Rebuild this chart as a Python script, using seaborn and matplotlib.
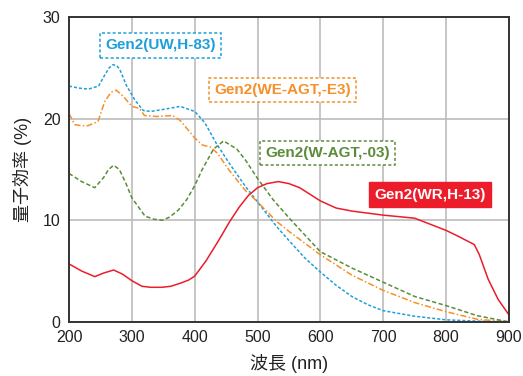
import pandas as pd
import matplotlib
matplotlib.use("Agg")
import matplotlib.pyplot as plt
import seaborn as sns

# 読み取った値 (波長 nm, 量子効率 %)
uw_nm = [200, 215, 231, 247, 257, 264, 270, 276, 281, 291, 305, 318, 330, 350, 377, 400,
         416, 434, 455, 481, 500, 530, 550, 575, 600, 625, 650, 675, 700, 750, 800, 850, 900]
uw_qe = [23.2, 23.0, 22.9, 23.2, 24.3, 25.0, 25.3, 25.2, 24.8, 23.3, 21.8, 20.8, 20.7, 20.9, 21.2, 20.7,
         19.6, 17.6, 15.6, 13.3, 11.8, 9.4, 8.0, 6.3, 4.9, 3.6, 2.5, 1.7, 1.1, 0.55, 0.2, 0.07, 0.0]

we_nm = [200, 205, 209, 220, 230, 246, 257, 267, 275, 286, 300, 312, 320, 340, 365, 377,
         400, 412, 425, 436, 455, 481, 500, 530, 550, 600, 650, 700, 750, 800, 850, 900]
we_qe = [20.5, 19.9, 19.4, 19.3, 19.3, 19.7, 21.7, 22.6, 22.8, 22.2, 21.2, 21.0, 20.3, 20.2, 20.3, 19.8,
         18.1, 17.4, 17.2, 16.6, 14.9, 12.9, 11.8, 9.9, 8.9, 6.6, 4.6, 3.1, 1.9, 1.0, 0.25, 0.0]

w_nm = [200, 220, 241, 255, 263, 271, 280, 290, 300, 321, 335, 348, 360, 374, 387, 400,
        412, 430, 446, 467, 481, 500, 525, 552, 600, 650, 700, 750, 800, 850, 900]
w_qe = [14.6, 13.8, 13.2, 14.2, 15.0, 15.4, 15.0, 13.7, 12.2, 10.4, 10.1, 10.0, 10.3, 11.0, 12.0, 13.4,
        15.0, 17.0, 17.8, 17.0, 15.9, 14.1, 12.0, 10.1, 6.9, 5.3, 3.9, 2.5, 1.6, 0.6, 0.0]

wr_nm = [200, 220, 241, 255, 271, 285, 300, 316, 330, 348, 362, 377, 390, 400, 418, 439,
         455, 471, 485, 500, 515, 533, 550, 567, 600, 625, 650, 700, 750, 800, 820, 845,
         853, 867, 883, 900]
wr_qe = [5.7, 5.0, 4.45, 4.8, 5.1, 4.7, 4.05, 3.5, 3.4, 3.4, 3.5, 3.8, 4.1, 4.5, 6.0, 8.1,
         9.8, 11.3, 12.4, 13.2, 13.6, 13.8, 13.6, 13.2, 11.9, 11.2, 10.9, 10.5, 10.2, 9.0, 8.4, 7.6,
         6.6, 4.2, 2.2, 0.7]

names = ["Gen2(UW,H-83)", "Gen2(WE-AGT,-E3)", "Gen2(W-AGT,-03)", "Gen2(WR,H-13)"]
colors = ["#1f9fda", "#f5902a", "#5b8c3a", "#ec1c2a"]

df = pd.concat([
    pd.DataFrame({"nm": uw_nm, "qe": uw_qe, "name": names[0]}),
    pd.DataFrame({"nm": we_nm, "qe": we_qe, "name": names[1]}),
    pd.DataFrame({"nm": w_nm, "qe": w_qe, "name": names[2]}),
    pd.DataFrame({"nm": wr_nm, "qe": wr_qe, "name": names[3]}),
])

sns.set_style("white")
plt.rcParams["font.family"] = ["Liberation Sans", "Noto Sans CJK JP"]

fig = plt.figure(figsize=(5.23, 3.76), dpi=100)
ax = fig.add_axes([0.132, 0.144, 0.841, 0.811])

dashes = {names[0]: (2, 1.3), names[1]: (4, 1.5, 1, 1.5), names[2]: (2.8, 1.6), names[3]: ""}
sns.lineplot(data=df, x="nm", y="qe", hue="name", style="name", palette=dict(zip(names, colors)),
             dashes=dashes, estimator=None, sort=True, linewidth=1.1, legend=False, ax=ax)

ax.set_xlim(200, 900)
ax.set_ylim(0, 30)
ax.set_xticks(range(200, 901, 100))
ax.set_yticks([0, 10, 20, 30])
ax.grid(True, color="#bcbcbc", linewidth=1.2)
ax.set_axisbelow(True)
for s in ax.spines.values():
    s.set_color("#333333")
    s.set_linewidth(1.4)
ax.tick_params(length=0, labelsize=11.5, colors="#222222", pad=6)
ax.set_xlabel("波長 (nm)", fontsize=13, color="#222222", labelpad=6)
ax.set_ylabel("量子効率 (%)", fontsize=13, color="#222222", labelpad=8)

# 系列ラベル
label_pos = [(345, 27.2), (540, 22.8), (611, 16.6), (775, 12.5)]
for i, (name, (lx, ly)) in enumerate(zip(names, label_pos)):
    if i == 3:
        box = dict(boxstyle="square,pad=0.35", facecolor=colors[i], edgecolor=colors[i])
        tc = "white"
    else:
        box = dict(boxstyle="square,pad=0.35", facecolor="white", edgecolor=colors[i],
                   linestyle=(0, (2, 1.5)), linewidth=1.1)
        tc = colors[i]
    ax.text(lx, ly, name, color=tc, fontsize=11, fontweight="bold", ha="center", va="center",
            bbox=box)

fig.savefig("out.png", dpi=100)
